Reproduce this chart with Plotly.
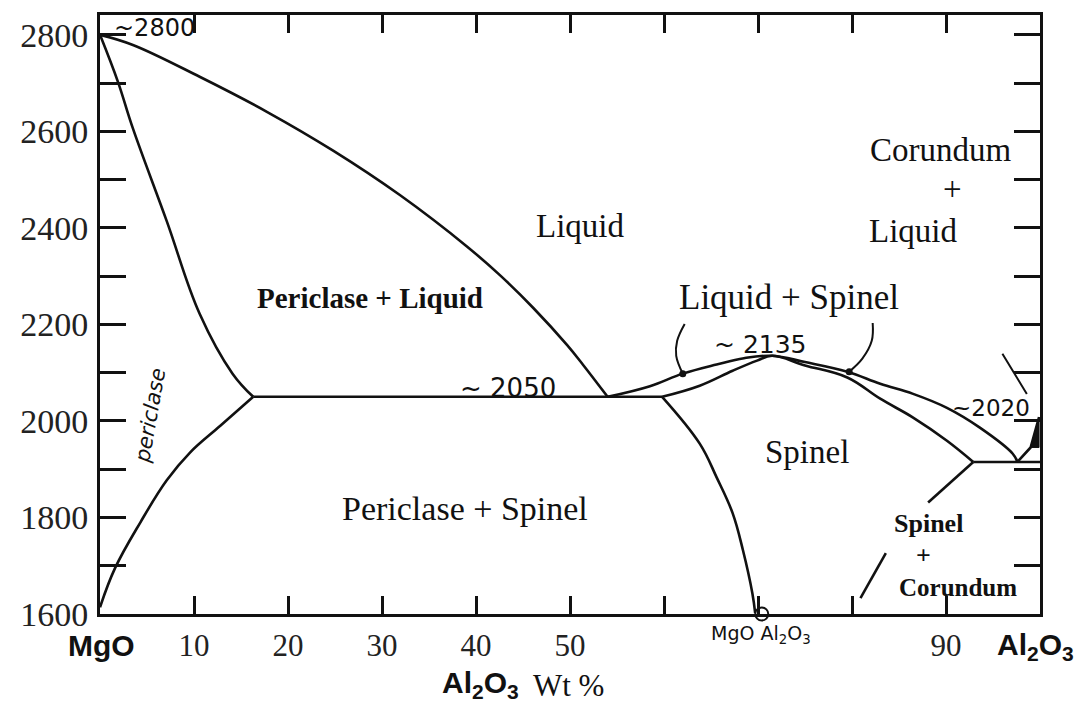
import plotly.graph_objects as go

# ---- MgO - Al2O3 phase diagram (composition in wt % Al2O3, temperature in degrees C) ----

# Periclase liquidus from the MgO melting point down to the MgO-rich eutectic
liq_per_x = [0, 3.5, 10.6, 17.8, 24.8, 31.9, 39.0, 42.6, 46.1, 49.7, 51.4, 54.0]
liq_per_y = [2800, 2779, 2713, 2640, 2560, 2468, 2362, 2301, 2234, 2157, 2116, 2050]

# Periclase solidus (limit of the MgO solid solution)
sol_per_x = [0, 1.9, 3.5, 7.1, 10.6, 14.1, 16.3]
sol_per_y = [2800, 2703, 2606, 2414, 2222, 2098, 2050]

# Periclase solvus below the eutectic
solv_per_x = [16.3, 12.8, 9.6, 7.1, 4.3, 1.6, 0]
solv_per_y = [2050, 1990, 1935, 1877, 1790, 1695, 1614]

# MgO-rich eutectic horizontal
eut1_x = [16.3, 59.8]
eut1_y = [2050, 2050]

# Spinel liquidus (congruent maximum near 2135)
liq_sp_x = [54.0, 58.5, 62.0, 65.6, 68.5, 71.5, 75.0, 79.5, 83.0, 86.5, 90.1, 93.6, 97.1, 97.6]
liq_sp_y = [2050, 2072, 2098, 2117, 2130, 2135, 2122, 2102, 2077, 2056, 2027, 1986, 1932, 1915]

# Spinel solidus
sol_sp_x = [59.8, 63.8, 67.3, 69.9, 71.5, 75.0, 79.5, 83.0, 86.5, 90.1, 92.9]
sol_sp_y = [2050, 2073, 2104, 2125, 2135, 2115, 2090, 2046, 2007, 1959, 1915]

# Spinel solvus on the MgO side, ending at MgO.Al2O3
solv_sp_x = [59.8, 63.8, 65.6, 67.3, 68.4, 69.4, 69.7]
solv_sp_y = [2050, 1953, 1883, 1809, 1732, 1643, 1602]

# Spinel solvus on the Al2O3 side (two pieces)
solv_al1_x = [92.9, 88.1]
solv_al1_y = [1915, 1831]
solv_al2_x = [83.6, 80.9]
solv_al2_y = [1726, 1633]

# Spinel-corundum eutectic horizontal
eut2_x = [92.9, 100]
eut2_y = [1915, 1915]

# Corundum liquidus up to the Al2O3 melting point
liq_cor_x = [97.6, 99.0, 99.9]
liq_cor_y = [1915, 1945, 2008]
cor_wedge_x = [99.0, 99.9, 99.9, 99.0]
cor_wedge_y = [1945, 2008, 1945, 1945]

# Leader lines
lead_left_x = [62.2, 61.4, 61.3, 62.0]
lead_left_y = [2201, 2166, 2135, 2098]
lead_right_x = [82.2, 82.1, 81.1, 79.7]
lead_right_y = [2203, 2166, 2129, 2102]
lead_dot_x = [62.0, 79.7]
lead_dot_y = [2098, 2102]
lead_2020_x = [96.0, 97.1, 98.6]
lead_2020_y = [2139, 2104, 2056]

# Spinel composition marker
spinel_x = [70.4]
spinel_y = [1600]

# Axis ticks
x_tickvals = [10, 20, 30, 40, 50, 60, 70, 80, 90]
x_ticktext = ["10", "20", "30", "40", "50", "", "", "", "90"]
y_tickvals = [1600, 1700, 1800, 1900, 2000, 2100, 2200, 2300, 2400, 2500, 2600, 2700, 2800]
y_ticktext = ["1600", "", "1800", "", "2000", "", "2200", "", "2400", "", "2600", "", "2800"]

INK = "#111111"
LW = 2.6
SERIF = "Liberation Serif"
SANS = "Liberation Sans"
LETTER = "DejaVu Sans"

fig = go.Figure()


def curve(x, y, smooth=True, width=LW):
    fig.add_trace(go.Scatter(
        x=x, y=y, mode="lines",
        line=dict(color=INK, width=width, shape="spline" if smooth else "linear",
                  smoothing=1.1),
        hoverinfo="skip", showlegend=False,
    ))


curve(liq_per_x, liq_per_y)
curve(sol_per_x, sol_per_y)
curve(solv_per_x, solv_per_y)
curve(eut1_x, eut1_y, smooth=False)
curve(liq_sp_x, liq_sp_y)
curve(sol_sp_x, sol_sp_y)
curve(solv_sp_x, solv_sp_y)
curve(solv_al1_x, solv_al1_y, smooth=False)
curve(solv_al2_x, solv_al2_y, smooth=False)
curve(eut2_x, eut2_y, smooth=False)
curve(liq_cor_x, liq_cor_y, smooth=False)
curve(lead_left_x, lead_left_y, width=2)
curve(lead_right_x, lead_right_y, width=2)
curve(lead_2020_x, lead_2020_y, width=2)

fig.add_trace(go.Scatter(
    x=cor_wedge_x, y=cor_wedge_y, mode="lines", fill="toself",
    fillcolor=INK, line=dict(color=INK, width=1),
    hoverinfo="skip", showlegend=False,
))
fig.add_trace(go.Scatter(
    x=lead_dot_x, y=lead_dot_y, mode="markers",
    marker=dict(color=INK, size=7, symbol="circle"),
    hoverinfo="skip", showlegend=False,
))
fig.add_trace(go.Scatter(
    x=spinel_x, y=spinel_y, mode="markers", cliponaxis=False,
    marker=dict(color="white", size=13, symbol="circle",
                line=dict(color=INK, width=2)),
    hoverinfo="skip", showlegend=False,
))

annotations = []


def label(text, x, y, size, family=SERIF, bold=False, xanchor="center",
          xref="x", yref="y", angle=0, italic=False, color=INK):
    t = f"<b>{text}</b>" if bold else text
    t = f"<i>{t}</i>" if italic else t
    annotations.append(dict(
        text=t, x=x, y=y, xref=xref, yref=yref, showarrow=False,
        xanchor=xanchor, yanchor="middle", textangle=angle,
        font=dict(family=family, size=size, color=color),
    ))


# Phase-field names
label("Liquid", 51.1, 2403, 33)
label("Periclase + Liquid", 28.7, 2255, 29, bold=True)
label("Liquid + Spinel", 73.3, 2255, 35)
label("Corundum", 89.5, 2562, 33)
label("+", 90.7, 2480, 33)
label("Liquid", 86.5, 2393, 33)
label("Spinel", 75.2, 1935, 33)
label("Periclase + Spinel", 38.8, 1819, 34)
label("Spinel", 88.1, 1788, 26, bold=True)
label("+", 87.6, 1722, 26, bold=True)
label("Corundum", 91.3, 1654, 25, bold=True)
label("periclase", 5.3, 2011, 21, family=LETTER, angle=-80, italic=True)

# Invariant temperatures
label("~2800", 1.3, 2814, 24, family=LETTER, xanchor="left")
label("~ 2050", 38.1, 2069, 26, family=LETTER, xanchor="left")
label("~ 2135", 65.1, 2158, 25, family=LETTER, xanchor="left")
label("~2020", 90.4, 2027, 23, family=LETTER, xanchor="left")

# Composition end members and axis title
label("MgO Al<sub>2</sub>O<sub>3</sub>", 70.3, -0.034, 19, family=LETTER, yref="paper")
label("MgO", 0.002, -0.052, 30, family=SANS, bold=True, xref="paper", yref="paper")
label("Al<sub>2</sub>O<sub>3</sub>", 0.995, -0.055, 30, family=SANS, bold=True,
      xref="paper", yref="paper")
label("Al<sub>2</sub>O<sub>3</sub>", 0.405, -0.118, 30, family=SANS, bold=True,
      xref="paper", yref="paper")
label("Wt %", 0.498, -0.12, 31, xref="paper", yref="paper")

axis_common = dict(
    showgrid=False, zeroline=False, showline=True, linewidth=3, linecolor=INK,
    mirror="allticks", ticks="inside", tickwidth=2.5, tickcolor=INK,
)

fig.update_layout(
    width=1085, height=709,
    margin=dict(l=100, r=45, t=13, b=95),
    paper_bgcolor="white", plot_bgcolor="white",
    showlegend=False,
    annotations=annotations,
    xaxis=dict(
        range=[0, 100], tickmode="array", tickvals=x_tickvals, ticktext=x_ticktext,
        ticklen=18, ticklabelstandoff=2,
        tickfont=dict(family=SERIF, size=31, color="#222222"),
        **axis_common,
    ),
    yaxis=dict(
        range=[1600, 2841], tickmode="array", tickvals=y_tickvals, ticktext=y_ticktext,
        ticklen=26, ticklabelstandoff=2,
        tickfont=dict(family=SERIF, size=34, color="#222222"),
        **axis_common,
    ),
)

fig.write_html("out.html")
